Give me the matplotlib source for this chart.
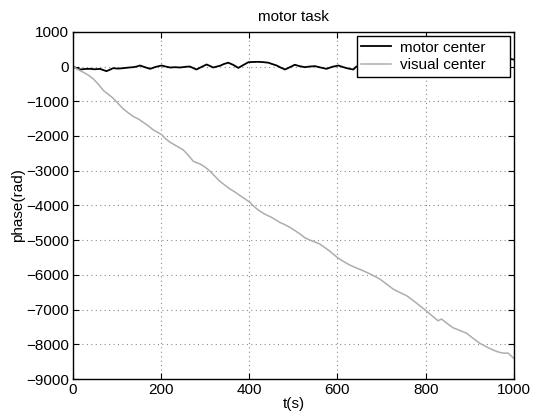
import numpy as np
import matplotlib
matplotlib.use('Agg')
import matplotlib.pyplot as plt

# values
motor_t = [0, 8, 16, 28, 39, 50, 61, 68, 76, 84, 91, 102, 114, 126, 137, 145, 152, 163,
           175, 188, 201, 210, 220, 232, 243, 254, 265, 272, 280, 292, 303, 310, 318,
           325, 333, 342, 352, 363, 375, 386, 398, 409, 420, 432, 443, 452, 462, 471,
           481, 492, 503, 514, 526, 537, 549, 562, 575, 588, 602, 611, 621, 629, 636,
           643, 670, 700, 730, 760, 790, 820, 850, 880, 910, 940, 970, 990, 1000]
motor_phase = [0, -50, -86, -70, -67, -80, -67, -100, -134, -90, -48, -60, -48, -30, -19,
               0, 29, -20, -67, -10, 29, 0, -29, -20, -29, -10, 0, -40, -86, -10, 58, 20,
               -29, -5, 19, 70, 110, 50, -40, 40, 125, 130, 135, 125, 110, 70, 29, -30,
               -86, -20, 50, 10, -19, 0, 10, -30, -67, -10, 29, -10, -48, -70, -86,
               0, 30, -20, 60, 20, 90, 40, 110, 60, 130, 90, 160, 220, 200]

visual_t = [0, 12, 23, 35, 46, 58, 69, 80, 91, 102, 114, 126, 137, 148, 159, 170, 182,
            191, 201, 210, 220, 235, 250, 262, 273, 288, 300, 311, 322, 333, 345, 356,
            367, 379, 390, 401, 410, 420, 435, 450, 469, 480, 492, 503, 515, 526, 537,
            548, 560, 572, 583, 592, 602, 612, 621, 632, 643, 658, 677, 696, 711, 726,
            741, 757, 772, 787, 800, 814, 828, 836, 849, 862, 878, 893, 908, 923, 938,
            953, 965, 976, 987, 1000]
visual_phase = [0, -90, -164, -250, -355, -520, -692, -800, -913, -1060, -1220, -1340,
                -1441, -1510, -1604, -1700, -1825, -1890, -1960, -2080, -2180, -2290,
                -2400, -2560, -2730, -2805, -2900, -3017, -3160, -3305, -3420, -3525,
                -3610, -3718, -3810, -3910, -4020, -4130, -4250, -4340, -4486, -4550,
                -4630, -4720, -4822, -4930, -4995, -5050, -5110, -5220, -5322, -5420,
                -5520, -5600, -5668, -5740, -5801, -5879, -5990, -6119, -6260, -6406,
                -6504, -6599, -6740, -6888, -7020, -7170, -7320, -7271, -7400, -7520,
                -7600, -7680, -7830, -7970, -8070, -8164, -8220, -8251, -8251, -8400]

plt.rcParams['font.family'] = ['Liberation Sans', 'DejaVu Sans']
plt.rcParams['font.size'] = 11

fig = plt.figure(figsize=(5.33, 4.18), dpi=100)
ax = fig.add_axes([0.137, 0.093, 0.827, 0.831])

ax.plot(motor_t, motor_phase, color='black', lw=1.3, label='motor center')
ax.plot(visual_t, visual_phase, color='0.68', lw=1.1, label='visual center')

ax.set_xlim(0, 1000)
ax.set_ylim(-9000, 1000)
ax.set_xticks(np.arange(0, 1001, 200))
ax.set_yticks(np.arange(-9000, 1001, 1000))
ax.grid(True, linestyle=(0, (1, 3)), color='0.55', linewidth=0.8)
ax.tick_params(direction='in', top=True, right=True, length=4, width=0.8, pad=3)
for s in ax.spines.values():
    s.set_linewidth(1.0)

ax.set_title('motor task', fontsize=11, pad=8)
ax.set_xlabel('t(s)', labelpad=0)
ax.set_ylabel('phase(rad)', labelpad=1)

# legend box stretched to the width seen in the reference, text left aligned
leg = ax.legend(loc='upper left', bbox_to_anchor=(0.644, 0.988, 0.347, 0.0),
                mode='expand', borderaxespad=0, fancybox=False, framealpha=1,
                edgecolor='black', handlelength=1.9, borderpad=0.3,
                labelspacing=0.25, handletextpad=0.6, fontsize=11)
leg.get_frame().set_linewidth(1.0)

fig.savefig('out.png', dpi=100)
